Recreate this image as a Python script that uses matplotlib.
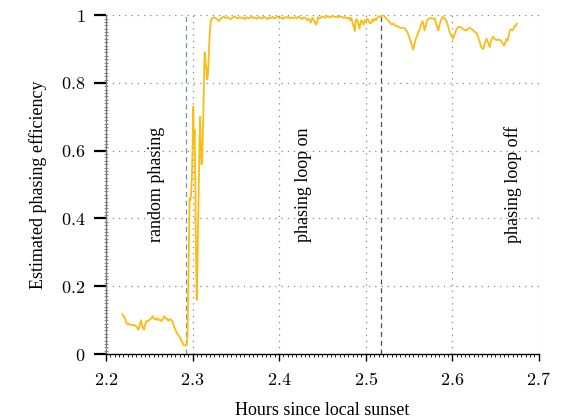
import matplotlib

matplotlib.use("Agg")
import matplotlib.pyplot as plt
from matplotlib.ticker import MultipleLocator, FuncFormatter

plt.rcParams["font.family"] = ["Liberation Serif", "DejaVu Serif"]
plt.rcParams["mathtext.fontset"] = "cm"

# hours since sunset vs. estimated phasing efficiency
hours = [
    2.2188, 2.2205, 2.2222, 2.2235, 2.2250, 2.2265, 2.2280, 2.2295, 2.2310, 2.2325,
    2.2340, 2.2358, 2.2372, 2.2385, 2.2395, 2.2405, 2.2416, 2.2428, 2.2440, 2.2455,
    2.2470, 2.2485, 2.2497, 2.2510, 2.2525, 2.2540, 2.2555, 2.2570, 2.2585, 2.2600,
    2.2615, 2.2630, 2.2645, 2.2660, 2.2675, 2.2690, 2.2705, 2.2720, 2.2740, 2.2760,
    2.2780, 2.2800, 2.2820, 2.2840, 2.2860, 2.2880, 2.2895, 2.2910, 2.2925, 2.2935,
    2.2942, 2.2950, 2.2958, 2.2966, 2.2975, 2.2983, 2.2992, 2.3000, 2.3008, 2.3016,
    2.3024, 2.3032, 2.3040, 2.3048, 2.3056, 2.3064, 2.3072, 2.3080, 2.3088, 2.3096,
    2.3104, 2.3112, 2.3120, 2.3130, 2.3140, 2.3150, 2.3160, 2.3170, 2.3180, 2.3190,
    2.3200, 2.3212, 2.3227, 2.3245, 2.3265, 2.3285, 2.3305, 2.3325, 2.3345, 2.3365,
    2.3385, 2.3405, 2.3425, 2.3445, 2.3465, 2.3485, 2.3505, 2.3525, 2.3545, 2.3565,
    2.3585, 2.3605, 2.3625, 2.3645, 2.3665, 2.3685, 2.3705, 2.3725, 2.3745, 2.3765,
    2.3785, 2.3805, 2.3825, 2.3845, 2.3865, 2.3885, 2.3905, 2.3925, 2.3945, 2.3965,
    2.3985, 2.4005, 2.4025, 2.4045, 2.4065, 2.4085, 2.4105, 2.4125, 2.4145, 2.4165,
    2.4185, 2.4205, 2.4225, 2.4245, 2.4265, 2.4285, 2.4305, 2.4325, 2.4345, 2.4365,
    2.4385, 2.4405, 2.4425, 2.4440, 2.4450, 2.4465, 2.4485, 2.4505, 2.4525, 2.4545,
    2.4565, 2.4585, 2.4605, 2.4625, 2.4645, 2.4665, 2.4685, 2.4705, 2.4725, 2.4745,
    2.4765, 2.4785, 2.4805, 2.4820, 2.4835, 2.4850, 2.4865, 2.4875, 2.4885, 2.4900,
    2.4915, 2.4930, 2.4945, 2.4960, 2.4975, 2.4990, 2.5005, 2.5020, 2.5040, 2.5060,
    2.5080, 2.5095, 2.5110, 2.5125, 2.5140, 2.5155, 2.5170, 2.5185, 2.5200, 2.5215,
    2.5230, 2.5245, 2.5260, 2.5280, 2.5300, 2.5320, 2.5340, 2.5360, 2.5375, 2.5390,
    2.5410, 2.5430, 2.5450, 2.5470, 2.5490, 2.5510, 2.5530, 2.5550, 2.5565, 2.5580,
    2.5595, 2.5610, 2.5626, 2.5645, 2.5660, 2.5670, 2.5680, 2.5695, 2.5710, 2.5720,
    2.5740, 2.5760, 2.5780, 2.5800, 2.5815, 2.5830, 2.5840, 2.5855, 2.5870, 2.5885,
    2.5895, 2.5910, 2.5930, 2.5950, 2.5970, 2.5990, 2.6010, 2.6030, 2.6050, 2.6070,
    2.6090, 2.6110, 2.6130, 2.6150, 2.6165, 2.6180, 2.6200, 2.6220, 2.6240, 2.6260,
    2.6280, 2.6300, 2.6320, 2.6335, 2.6357, 2.6375, 2.6396, 2.6415, 2.6434, 2.6450,
    2.6472, 2.6490, 2.6510, 2.6530, 2.6545, 2.6560, 2.6580, 2.6600, 2.6615, 2.6627,
    2.6640, 2.6655, 2.6665, 2.6680, 2.6695, 2.6710, 2.6720, 2.6735, 2.6746,
]
efficiency = [
    0.117, 0.112, 0.104, 0.092, 0.088, 0.090, 0.086, 0.087, 0.085, 0.086,
    0.083, 0.080, 0.072, 0.078, 0.092, 0.100, 0.086, 0.076, 0.072, 0.090,
    0.098, 0.096, 0.100, 0.103, 0.106, 0.112, 0.104, 0.102, 0.106, 0.100,
    0.103, 0.100, 0.098, 0.106, 0.112, 0.104, 0.104, 0.098, 0.103, 0.100,
    0.086, 0.072, 0.062, 0.054, 0.046, 0.036, 0.028, 0.025, 0.026, 0.028,
    0.060, 0.180, 0.330, 0.460, 0.455, 0.470, 0.520, 0.600, 0.730, 0.620,
    0.660, 0.500, 0.300, 0.160, 0.250, 0.380, 0.520, 0.620, 0.700, 0.600,
    0.560, 0.580, 0.650, 0.780, 0.890, 0.860, 0.840, 0.810, 0.830, 0.900,
    0.950, 0.985, 0.990, 0.993, 0.991, 0.988, 0.982, 0.990, 0.993, 0.995,
    0.991, 0.994, 0.990, 0.988, 0.993, 0.996, 0.992, 0.990, 0.994, 0.991,
    0.993, 0.988, 0.994, 0.990, 0.992, 0.996, 0.991, 0.993, 0.989, 0.994,
    0.992, 0.990, 0.995, 0.992, 0.988, 0.993, 0.991, 0.995, 0.990, 0.993,
    0.996, 0.991, 0.993, 0.989, 0.994, 0.992, 0.995, 0.990, 0.993, 0.991,
    0.994, 0.990, 0.996, 0.992, 0.988, 0.993, 0.991, 0.985, 0.990, 0.978,
    0.992, 0.984, 0.972, 0.980, 0.994, 0.990, 0.993, 0.996, 0.992, 0.995,
    0.997, 0.993, 0.995, 0.998, 0.994, 0.996, 0.993, 0.997, 0.995, 0.992,
    0.994, 0.990, 0.993, 0.985, 0.992, 0.975, 0.965, 0.953, 0.985, 0.988,
    0.975, 0.960, 0.985, 0.982, 0.972, 0.985, 0.978, 0.990, 0.980, 0.975,
    0.988, 0.982, 0.990, 0.986, 0.993, 0.997, 0.995, 0.998, 1.000, 0.997,
    0.992, 0.987, 0.985, 0.978, 0.972, 0.975, 0.970, 0.966, 0.967, 0.964,
    0.962, 0.963, 0.961, 0.955, 0.945, 0.930, 0.915, 0.898, 0.915, 0.930,
    0.940, 0.950, 0.960, 0.975, 0.982, 0.970, 0.955, 0.968, 0.985, 0.988,
    0.990, 0.991, 0.989, 0.990, 0.975, 0.962, 0.955, 0.972, 0.985, 0.992,
    0.995, 0.990, 0.985, 0.970, 0.950, 0.940, 0.930, 0.945, 0.958, 0.965,
    0.965, 0.962, 0.958, 0.955, 0.955, 0.960, 0.962, 0.960, 0.956, 0.950,
    0.948, 0.935, 0.920, 0.905, 0.900, 0.915, 0.930, 0.920, 0.906, 0.925,
    0.936, 0.930, 0.926, 0.928, 0.927, 0.925, 0.918, 0.910, 0.920, 0.930,
    0.925, 0.940, 0.955, 0.958, 0.955, 0.960, 0.968, 0.968, 0.975,
]

# event markers
start_phasing = 2.2925
stop_phasing = 2.5176
annotations = [
    (2.258, 0.5, "random phasing"),
    (2.428, 0.5, "phasing loop on"),
    (2.67, 0.5, "phasing loop off"),
]

fig = plt.figure(figsize=(5.62, 4.2), dpi=100)
ax = fig.add_axes([0.1886, 0.157, 0.770, 0.807])

ax.plot(hours, efficiency, color="#fbbc13", lw=1.3, zorder=3)

ax.axvline(start_phasing, color="#6b98a6", lw=0.9, ls=(0, (4, 3)), zorder=2)
ax.axvline(stop_phasing, color="#3c5762", lw=0.9, ls=(0, (4, 3)), zorder=2)

for x, y, label in annotations:
    ax.text(x, y, label, rotation=90, ha="center", va="center", fontsize=13)

ax.set_xlim(2.2, 2.7)
ax.set_ylim(0, 1)
ax.xaxis.set_major_locator(MultipleLocator(0.1))
ax.xaxis.set_minor_locator(MultipleLocator(0.005))
ax.yaxis.set_major_locator(MultipleLocator(0.2))
ax.yaxis.set_minor_locator(MultipleLocator(0.01))

ax.xaxis.set_major_formatter(FuncFormatter(lambda v, _: f"${v:.1f}$"))
ax.yaxis.set_major_formatter(FuncFormatter(lambda v, _: f"${v:g}$"))

ax.grid(True, which="major", ls=(0, (1, 4)), color="#888888", lw=0.9)
for side in ("top", "right"):
    ax.spines[side].set_visible(False)
ax.spines["left"].set_color("#777777")
ax.spines["left"].set_linewidth(1.0)
ax.spines["bottom"].set_linewidth(1.0)

ax.tick_params(axis="both", which="major", direction="out", length=5,
               width=1.0, labelsize=13)
ax.tick_params(axis="y", which="major", length=9, width=1.6, pad=6)
ax.tick_params(axis="x", which="major", pad=8)
ax.tick_params(axis="x", which="minor", direction="out", length=2, width=0.6)
ax.tick_params(axis="y", which="minor", direction="inout", length=3,
               width=0.6, color="#777777")

ax.set_xlabel("Hours since local sunset", fontsize=13, labelpad=9)
ax.set_ylabel("Estimated phasing efficiency", fontsize=13, labelpad=10)

fig.savefig("out.png", dpi=100)
